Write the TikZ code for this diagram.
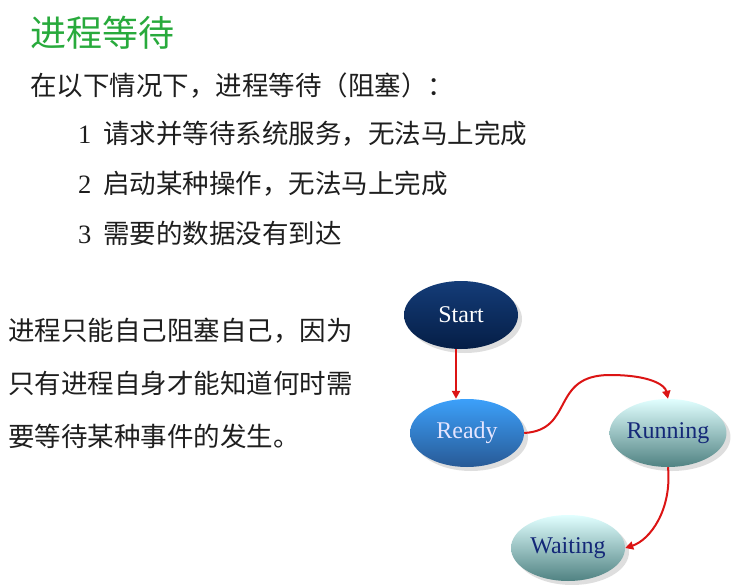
\documentclass[tikz,border=0pt]{standalone}
\usepackage{fontspec}
\setmainfont{Liberation Serif}
\newfontfamily\cjk{Noto Sans CJK SC}
\usetikzlibrary{shapes.geometric,arrows.meta,shadows}
\begin{document}
\begin{tikzpicture}[x=1pt,y=-1pt,
  st/.style={ellipse,minimum width=114pt,minimum height=68pt,inner sep=0pt,font=\fontsize{24}{24}\selectfont,
    drop shadow={shadow xshift=4pt,shadow yshift=-4pt,fill=gray!50}},
  conn/.style={draw={rgb,255:red,220;green,20;blue,20},line width=2pt,-{Triangle[length=8pt,width=8pt]}},
  txt/.style={anchor=west,inner sep=0pt,font=\cjk\fontsize{26.5}{26.5}\selectfont,text={rgb,255:red,30;green,30;blue,30}}]
\useasboundingbox (0,0) rectangle (751,585);
\fill[white] (0,0) rectangle (751,585);
\node[anchor=west,inner sep=0pt,font=\cjk\fontsize{36}{36}\selectfont,text={rgb,255:red,40;green,170;blue,60}] (title) at (30,33) {进程等待};
\node[txt] (l0) at (30,86) {在以下情况下，进程等待（阻塞）：};
\node[txt] (l1) at (78,134) {{\rmfamily 1}\ \ 请求并等待系统服务，无法马上完成};
\node[txt] (l2) at (78,184) {{\rmfamily 2}\ \ 启动某种操作，无法马上完成};
\node[txt] (l3) at (78,233) {{\rmfamily 3}\ \ 需要的数据没有到达};
\node[txt] (p1) at (8,331) {进程只能自己阻塞自己，因为};
\node[txt] (p2) at (8,383) {只有进程自身才能知道何时需};
\node[txt] (p3) at (8,436) {要等待某种事件的发生。};
\node[st,top color={rgb,255:red,20;green,60;blue,120},bottom color={rgb,255:red,5;green,30;blue,70},text=white] (start) at (461,315) {Start};
\node[st,top color={rgb,255:red,60;green,160;blue,250},bottom color={rgb,255:red,40;green,90;blue,150},text=white!90!blue] (ready) at (467,433) {Ready};
\node[st,top color={rgb,255:red,225;green,255;blue,255},bottom color={rgb,255:red,80;green,130;blue,130},text={rgb,255:red,20;green,40;blue,120}] (running) at (668,433) {Running};
\node[st,minimum height=66pt,top color={rgb,255:red,225;green,255;blue,255},bottom color={rgb,255:red,80;green,130;blue,130},text={rgb,255:red,20;green,40;blue,120}] (waiting) at (568,548) {Waiting};
\draw[conn] (start.south -| 456,0) -- (ready.north -| 456,0);
\draw[conn] (ready.east) .. controls (575,430) and (550,375) .. (610,375) .. controls (650,375) and (665,385) .. (running.north);
\draw[conn] (running.south) .. controls (672,510) and (650,540) .. (waiting.east);
\end{tikzpicture}
\end{document}
